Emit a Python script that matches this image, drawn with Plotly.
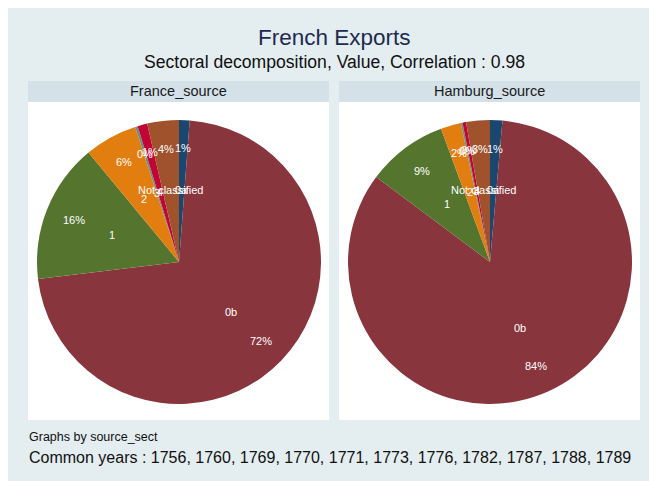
import math
import plotly.graph_objects as go

# the page has an 8px body margin, so the figure fills the window from (8, 8)
OFF = 8
W, H = 657 - OFF, 481 - OFF

sectors = ["0a", "0b", "1", "2", "3", "4", "Not classified"]
france_share = [1.2, 71.9, 15.9, 6.0, 0.3, 1.1, 3.6]
hamburg_share = [1.4, 83.8, 9.2, 2.3, 0.2, 0.4, 2.7]
years = [1756, 1760, 1769, 1770, 1771, 1773, 1776, 1782, 1787, 1788, 1789]

colors = ["#1a476f", "#89353d", "#55752f", "#e27d0f", "#6e8e84", "#c10534", "#a0522d"]
bg = "#e4edf0"
strip = "#d4e1e8"
font = "Liberation Sans, Arial, sans-serif"


def px(x):
    return (x - OFF) / W


def py(y):
    return 1 - (y - OFF) / H


def label(x, y, text, size, color, xanchor="center"):
    fig.add_annotation(x=px(x), y=py(y), xref="paper", yref="paper", text=text,
                       showarrow=False, xanchor=xanchor, yanchor="middle",
                       font=dict(size=size, color=color))


fig = go.Figure()
fig.update_layout(
    width=W,
    height=H,
    margin=dict(l=0, r=0, t=0, b=0),
    paper_bgcolor=bg,
    plot_bgcolor=bg,
    font=dict(family=font),
)

panels = [
    ("France_source", france_share, 28, 329),
    ("Hamburg_source", hamburg_share, 339, 640),
]

R = 142
CY = 262
for name, share, x0, x1 in panels:
    fig.add_shape(type="rect", xref="paper", yref="paper",
                  x0=px(x0), x1=px(x1), y0=py(102), y1=py(81),
                  fillcolor=strip, line_width=0, layer="below")
    fig.add_shape(type="rect", xref="paper", yref="paper",
                  x0=px(x0), x1=px(x1), y0=py(420), y1=py(102),
                  fillcolor="white", line_width=0, layer="below")
    label((x0 + x1) / 2, 91, name, 14.5, "#1a1a1a")

    cx = (x0 + x1) / 2 + 0.5
    fig.add_trace(go.Pie(
        values=share,
        labels=sectors,
        sort=False,
        direction="clockwise",
        rotation=0,
        textinfo="none",
        hoverinfo="label+percent",
        marker=dict(colors=colors, line=dict(width=0)),
        showlegend=False,
        domain=dict(x=[px(cx - R), px(cx + R)], y=[py(CY + R), py(CY - R)]),
    ))

    total = sum(share)
    cum = 0
    for lab, v in zip(sectors, share):
        mid = (cum + v / 2) / total * 2 * math.pi
        cum += v
        dx, dy = math.sin(mid), -math.cos(mid)
        label(cx + 0.8 * R * dx, CY + 0.8 * R * dy, f"{round(v / total * 100)}%", 11, "white")
        label(cx + 0.51 * R * dx, CY + 0.51 * R * dy, lab, 11, "white")

label(334, 37, "French Exports", 22.5, "#1e2a50")
label(334, 62, "Sectoral decomposition, Value, Correlation : 0.98", 17.6, "#111")
label(27, 437, "Graphs by source_sect", 12.5, "#111", xanchor="left")
label(27, 457, "Common years : " + ", ".join(str(y) for y in years), 16, "#111", xanchor="left")

fig.write_html("out.html")
